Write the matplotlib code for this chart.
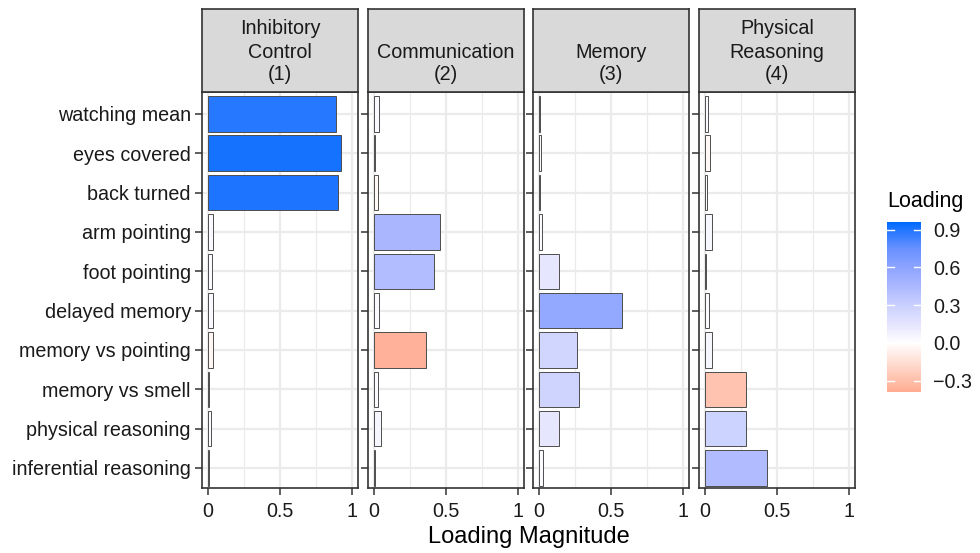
import matplotlib
matplotlib.use("Agg")
import matplotlib.pyplot as plt
import numpy as np
from matplotlib.colors import LinearSegmentedColormap, Normalize

plt.rcParams['font.family'] = ['Liberation Sans', 'DejaVu Sans']

categories = ["watching mean", "eyes covered", "back turned", "arm pointing",
              "foot pointing", "delayed memory", "memory vs pointing",
              "memory vs smell", "physical reasoning", "inferential reasoning"]
factors = ["Inhibitory\nControl\n(1)", "Communication\n(2)", "Memory\n(3)",
           "Physical\nReasoning\n(4)"]
# signed loadings per factor (magnitude drawn, sign -> colour)
loadings_f1 = [0.889, 0.921, 0.903, 0.037, 0.026, 0.033, -0.037, 0.006, 0.019, 0.006]
loadings_f2 = [0.037, 0.005, -0.030, 0.461, 0.420, 0.033, -0.364, 0.030, 0.051, 0.010]
loadings_f3 = [0.010, 0.017, 0.010, 0.024, 0.142, 0.573, 0.265, 0.276, 0.142, 0.026]
loadings_f4 = [0.023, -0.033, 0.016, 0.047, 0.005, 0.026, 0.049, -0.284, 0.287, 0.431]
all_loadings = [loadings_f1, loadings_f2, loadings_f3, loadings_f4]
x_ticks = [0, 0.5, 1]
x_ticklabels = ["0", "0.5", "1"]
cbar_ticks = [-0.3, 0.0, 0.3, 0.6, 0.9]
cbar_ticklabels = ["\u22120.3", "0.0", "0.3", "0.6", "0.9"]

vmin, vmax = -0.39, 0.96
anchors = [(-0.39, (255, 172, 146)), (-0.364, (255, 179, 154)), (-0.28, (255, 196, 176)),
           (0.0, (255, 255, 255)), (0.142, (230, 230, 255)), (0.28, (206, 212, 255)),
           (0.44, (174, 186, 255)), (0.57, (148, 168, 255)), (0.75, (105, 145, 255)),
           (0.89, (38, 120, 255)), (0.96, (0, 108, 255))]
cmap = LinearSegmentedColormap.from_list(
    "load", [((v - vmin) / (vmax - vmin), tuple(c / 255 for c in col)) for v, col in anchors])
norm = Normalize(vmin, vmax)

W, H = 980, 553
fig = plt.figure(figsize=(W / 100, H / 100), dpi=100)

panel_lefts = [202, 368, 533, 699]
pw = 156
ptop, pbot = 92, 488
stop = 9
border = "#333333"
FS = 14.2
strip_line_y = [73, 50, 27]  # pixel centres of lines, counted from the bottom line

for i, (f, vals) in enumerate(zip(factors, all_loadings)):
    ax = fig.add_axes([panel_lefts[i] / W, 1 - pbot / H, pw / W, (pbot - ptop) / H])
    y = np.arange(len(categories))
    mags = np.abs(vals)
    ax.barh(y, mags, height=0.9, color=cmap(norm(np.array(vals))),
            edgecolor="#4d4d4d", linewidth=0.7, zorder=3)
    ax.set_xlim(-0.042, 1.042)
    ax.set_ylim(len(categories) - 0.49, -0.555)
    ax.set_xticks(x_ticks)
    ax.set_xticklabels(x_ticklabels)
    ax.set_xticks([0.25, 0.75], minor=True)
    ax.set_yticks(y)
    if i == 0:
        ax.set_yticklabels(categories, va="center_baseline")
    else:
        ax.set_yticklabels([])
    ax.grid(True, which="major", color="#EBEBEB", linewidth=1.6, zorder=0)
    ax.grid(True, which="minor", axis="x", color="#EBEBEB", linewidth=0.9, zorder=0)
    ax.set_axisbelow(True)
    for s in ax.spines.values():
        s.set_color(border)
        s.set_linewidth(1.2)
    ax.tick_params(axis="both", which="major", length=5, width=1.1, color="#333333",
                   labelsize=FS, labelcolor="#1a1a1a", pad=3)
    ax.tick_params(axis="x", which="major", pad=5)
    ax.tick_params(axis="x", which="minor", length=0)
    # strip
    sax = fig.add_axes([panel_lefts[i] / W, 1 - ptop / H, pw / W, (ptop - stop) / H])
    sax.set_xticks([]); sax.set_yticks([])
    sax.set_facecolor("#D9D9D9")
    for s in sax.spines.values():
        s.set_color(border)
        s.set_linewidth(1.2)
    lines = f.split("\n")[::-1]
    for ln, py in zip(lines, strip_line_y):
        fig.text((panel_lefts[i] + pw / 2) / W, 1 - py / H, ln, ha="center",
                 va="center_baseline", fontsize=FS, color="#1a1a1a")

fig.text((202 + 855) / 2 / W, 1 - 537 / H, "Loading Magnitude", ha="center", va="center",
         fontsize=17, color="black")

# colorbar legend
cax = fig.add_axes([887 / W, 1 - 392 / H, 34 / W, 170 / H])
grad = np.linspace(vmin, vmax, 256).reshape(-1, 1)
cax.imshow(grad, aspect="auto", cmap=cmap, norm=norm, origin="lower",
           extent=[0, 1, vmin, vmax])
cax.set_xlim(0, 1)
cax.set_ylim(vmin, vmax)
cax.set_xticks([])
cax.yaxis.tick_right()
cax.set_yticks(cbar_ticks)
cax.set_yticklabels(cbar_ticklabels)
cax.tick_params(axis="y", length=0, labelsize=FS, pad=9, labelcolor="#1a1a1a")
for s in cax.spines.values():
    s.set_visible(False)
for t in cbar_ticks:
    cax.plot([0, 0.2], [t, t], color="white", lw=1)
    cax.plot([0.8, 1], [t, t], color="white", lw=1)
fig.text(887 / W, 1 - 202 / H, "Loading", ha="left", va="center", fontsize=15.5, color="black")

fig.savefig("out.png", dpi=100)
